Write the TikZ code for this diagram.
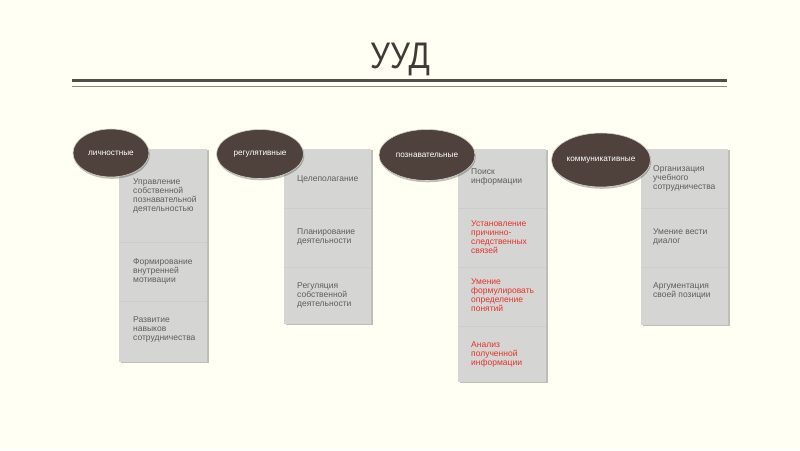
\documentclass[tikz,border=0pt]{standalone}
\usepackage{fontspec}
\setmainfont{Liberation Sans}
\usetikzlibrary{shapes.geometric,shadows}
\definecolor{bg}{HTML}{FFFFF3}
\definecolor{ellc}{HTML}{4F423C}
\definecolor{boxc}{HTML}{D5D5D3}
\definecolor{txtc}{HTML}{5E5E5E}
\definecolor{redt}{HTML}{E5322C}
\definecolor{divc}{HTML}{CDCDCB}
\definecolor{titlec}{HTML}{3E3A36}
\begin{document}
\begin{tikzpicture}[x=1pt,y=-1pt,
  boxbg/.style={fill=boxc, draw=none, inner sep=0, anchor=north west,
    drop shadow={shadow xshift=1.5pt, shadow yshift=-1pt, opacity=0.45, fill=black!55}},
  ellnode/.style={ellipse, fill=ellc, draw=white!75!ellc, line width=0.6pt, inner sep=0,
    text=white, font=\fontsize{8.2}{9}\selectfont,
    drop shadow={shadow xshift=0.8pt, shadow yshift=-1.8pt, opacity=0.25, fill=black}},
  itemtxt/.style={anchor=west, align=left, inner sep=0, text=txtc, font=\fontsize{8.5}{9}\selectfont},
  redtxt/.style={itemtxt, text=redt},
  divline/.style={draw=divc, line width=0.5pt}
]
\fill[bg] (0,0) rectangle (800,450);
\useasboundingbox (0,0) rectangle (800,450);

% title
\node[anchor=base, inner sep=0, text=titlec, font=\fontsize{37}{40}\selectfont, xscale=0.85] (title) at (400,68) {УУД};
\coordinate (l1a) at (72,80); \coordinate (l1b) at (727,80);
\coordinate (l2a) at (72,86); \coordinate (l2b) at (727,86);
\draw[line width=3pt, color=titlec!90!white] (l1a) -- (l1b);
\draw[line width=0.8pt, color=titlec!60!white] (l2a) -- (l2b);

% boxes
\node[boxbg, minimum width=88, minimum height=213] (b1) at (119,149) {};
\node[boxbg, minimum width=87, minimum height=175] (b2) at (284,149) {};
\node[boxbg, minimum width=88, minimum height=233] (b3) at (458,149) {};
\node[boxbg, minimum width=87, minimum height=176] (b4) at (641,149) {};

% dividers
\draw[divline] (b1.west |- 0,242) -- (b1.east |- 0,242);
\draw[divline] (b1.west |- 0,301) -- (b1.east |- 0,301);
\draw[divline] (b2.west |- 0,208) -- (b2.east |- 0,208);
\draw[divline] (b2.west |- 0,267) -- (b2.east |- 0,267);
\draw[divline] (b3.west |- 0,208) -- (b3.east |- 0,208);
\draw[divline] (b3.west |- 0,267) -- (b3.east |- 0,267);
\draw[divline] (b3.west |- 0,326) -- (b3.east |- 0,326);
\draw[divline] (b4.west |- 0,208) -- (b4.east |- 0,208);
\draw[divline] (b4.west |- 0,267) -- (b4.east |- 0,267);

% texts column 1
\node[itemtxt] (t11) at (133,195.5) {Управление\\собственной\\познавательной\\деятельностью};
\node[itemtxt] (t12) at (133,271) {Формирование\\внутренней\\мотивации};
\node[itemtxt] (t13) at (133,329) {Развитие\\навыков\\сотрудничества};
% column 2
\node[itemtxt] (t21) at (297,179) {Целеполагание};
\node[itemtxt] (t22) at (297,236.5) {Планирование\\деятельности};
\node[itemtxt] (t23) at (297,295) {Регуляция\\собственной\\деятельности};
% column 3
\node[itemtxt] (t31) at (471,177) {Поиск\\информации};
\node[redtxt] (t32) at (471,237.5) {Установление\\причинно-\\следственных\\связей};
\node[redtxt] (t33) at (471,295) {Умение\\формулировать\\определение\\понятий};
\node[redtxt] (t34) at (471,354) {Анализ\\полученной\\информации};
% column 4
\node[itemtxt] (t41) at (653,178.5) {Организация\\учебного\\сотрудничества};
\node[itemtxt] (t42) at (653,236.5) {Умение вести\\диалог};
\node[itemtxt] (t43) at (653,290.5) {Аргументация\\своей позиции};

% ellipses
\node[ellnode, minimum width=76, minimum height=48] (e1) at (111,153) {личностные};
\node[ellnode, minimum width=87, minimum height=49] (e2) at (260,154) {регулятивные};
\node[ellnode, minimum width=96, minimum height=51] (e3) at (427,155) {познавательные};
\node[ellnode, minimum width=99, minimum height=54] (e4) at (601,160) {коммуникативные};
\end{tikzpicture}
\end{document}
